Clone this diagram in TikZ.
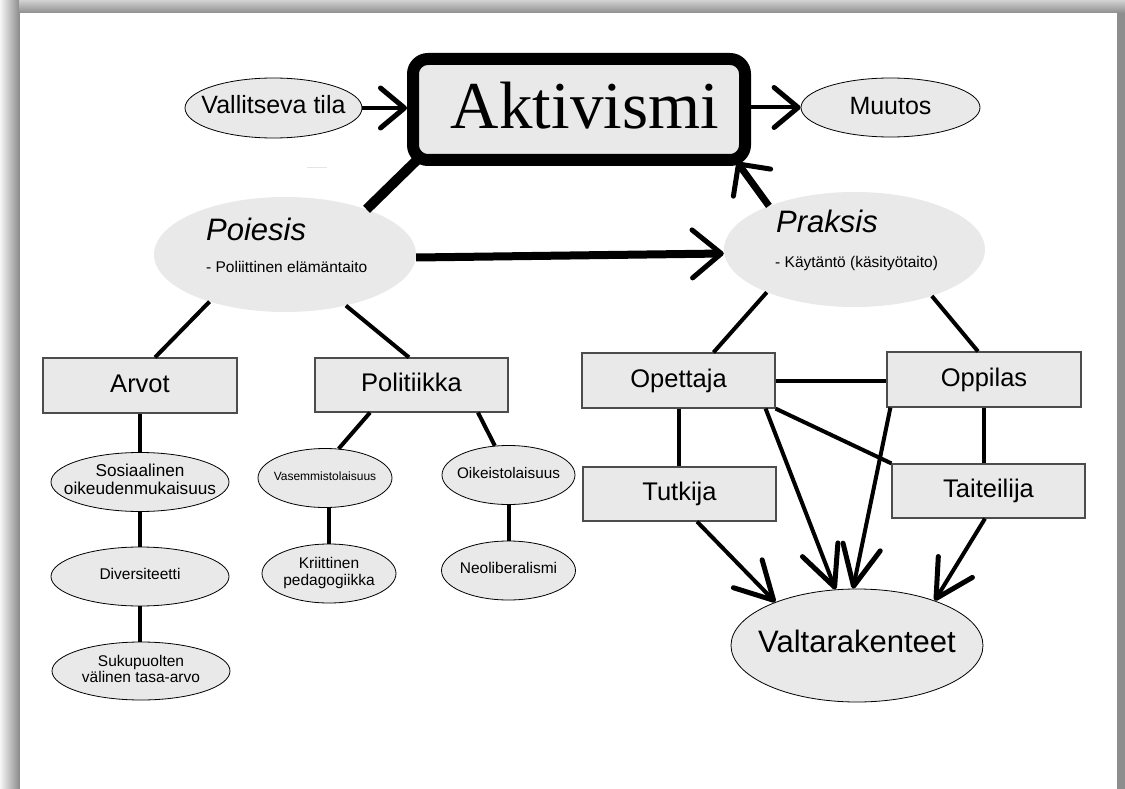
\documentclass[tikz,border=0pt]{standalone}
\usepackage{fontspec}
\setmainfont{Liberation Sans}
\newfontfamily\serifface{Liberation Serif}
\usetikzlibrary{arrows.meta,shapes.geometric}

\definecolor{nodefill}{HTML}{E9E9E9}
\definecolor{framegray}{HTML}{8E8E8E}
\newcommand{\inell}[1]{\makebox[0pt]{\begin{tabular}{@{}c@{}}#1\end{tabular}}}

\begin{document}
\begin{tikzpicture}[x=1pt,y=-1pt]
		% Define node and connector styles
		\tikzset{
			rolebox/.style={rectangle, draw=black!70, line width=1.2pt, fill=nodefill, minimum width=193pt, minimum height=55pt, inner sep=0pt, font=\fontsize{25.5}{28}\selectfont, text height=18pt, text depth=5pt},
			oval/.style={ellipse, draw, line width=0.8pt, fill=nodefill, inner sep=0pt, minimum width=178pt, minimum height=59pt},
			bigoval/.style={ellipse, fill=nodefill, inner sep=0pt, minimum width=262pt, minimum height=115pt},
			tie/.style={line width=4pt},
			barb/.style 2 args={-{Straight Barb[length=#1, width=#2, line width=5pt, round]}}
		}
		\useasboundingbox (0,0) rectangle (1125,789);
		
		% Draw the page frame
		\fill[framegray] (0,0) rectangle (1125,789);
		\shade[left color=white!92!framegray, right color=framegray] (0,0) rectangle (19,789);
		\shade[top color=framegray!40, bottom color=framegray] (19,0) rectangle (1125,13);
		\fill[white] (20,13) rectangle (1117,789);
		\draw[black!10, line width=1pt] (307,168) -- (327,168);
		
		% Draw the top row
		\node[draw, line width=12pt, rounded corners=15pt, fill=nodefill, minimum width=332pt, minimum height=101pt, inner sep=0pt, font=\serifface\fontsize{67}{67}\selectfont, text depth=8pt] (aktivismi) at (579,109.5) {\hspace*{12pt}Aktivismi};
		\node[oval, minimum width=177pt, minimum height=60pt, font=\fontsize{25}{25}\selectfont] (vallitseva) at (273.5,108) {\inell{Vallitseva tila}};
		\node[oval, minimum width=179pt, font=\fontsize{25}{25}\selectfont] (muutos) at (890.5,107.5) {\inell{\raisebox{-2pt}{Muutos}}};
		
		% Draw Poiesis and Praksis
		\node[bigoval] (poiesis) at (285,254.5) {};
		\node[anchor=base west, inner sep=0pt, font=\itshape\fontsize{31}{31}\selectfont] (poiesistitle) at (206,240) {Poiesis};
		\node[anchor=base west, inner sep=0pt, font=\fontsize{15.5}{16}\selectfont] (poiesissub) at (206,272) {- Poliittinen elämäntaito};
		\node[bigoval, minimum width=261pt] (praksis) at (854.5,249.5) {};
		\node[anchor=base west, inner sep=0pt, font=\itshape\fontsize{31}{31}\selectfont] (praksistitle) at (776,233) {Praksis};
		\node[anchor=base west, inner sep=0pt, font=\fontsize{15.5}{16}\selectfont] (praksissub) at (775,267) {- Käytäntö (käsityötaito)};
		
		% Draw the boxes
		\node[rolebox, minimum width=194pt] (arvot) at (140,385.5) {Arvot};
		\node[rolebox, minimum height=54pt] (politiikka) at (411.5,385) {Politiikka};
		\node[rolebox] (opettaja) at (678.5,380.5) {Opettaja};
		\node[rolebox, minimum width=194pt] (oppilas) at (984,379.5) {Oppilas};
		\node[rolebox, minimum height=54pt] (tutkija) at (679.5,494) {Tutkija};
		\node[rolebox, minimum height=54pt] (taiteilija) at (988.5,491) {Taiteilija};
		
		% Draw the ellipses below Arvot and Politiikka
		\node[oval, font=\fontsize{17.2}{17.5}\selectfont] (sosiaalinen) at (140,482) {\inell{Sosiaalinen\\oikeudenmukaisuus}};
		\node[oval, font=\fontsize{15.5}{16}\selectfont] (diversiteetti) at (140,576.5) {\inell{Diversiteetti}};
		\node[oval, minimum height=58pt, font=\fontsize{15.5}{16.5}\selectfont] (sukupuolten) at (141,671) {\inell{Sukupuolten\\välinen tasa-arvo}};
		\node[oval, minimum width=134pt, font=\fontsize{12}{12}\selectfont] (vasemmisto) at (325,478) {\inell{Vasemmistolaisuus}};
		\node[oval, minimum width=134pt, font=\fontsize{15.5}{17}\selectfont] (kriittinen) at (329,573.5) {\inell{Kriittinen\\pedagogiikka}};
		\node[oval, minimum width=133pt, font=\fontsize{15.3}{16}\selectfont] (oikeisto) at (508.5,475) {\inell{Oikeistolaisuus}};
		\node[oval, minimum width=134pt, font=\fontsize{15.5}{16}\selectfont] (neoliberalismi) at (508.5,570.5) {\inell{Neoliberalismi}};
		
		% Draw Valtarakenteet
		\node[oval, minimum width=252pt, minimum height=113pt, font=\fontsize{31}{31}\selectfont] (valta) at (857,645.5) {\inell{Valtarakenteet}};
		
		% Draw the arrows of the top row
		\draw[tie, barb={24pt}{40pt}] (vallitseva.east) -- (vallitseva.east -| aktivismi.west);
		\draw[tie, barb={24pt}{40pt}] (aktivismi.east |- muutos.west) -- (muutos.west);
		\draw[line width=10pt] (poiesis.29) -- ([shift={(10,-6)}]aktivismi.south west);
		\draw[line width=7pt, barb={23pt}{46pt}] (praksis.153) -- ([shift={(-14,-4)}]aktivismi.south east);
		\draw[line width=8pt, barb={29pt}{48pt}] ([yshift=-3pt]poiesis.east) -- ([yshift=-4pt]praksis.west);
		
		% Draw the tree under Poiesis
		\draw[tie] (poiesis.212) -- ([xshift=15pt]arvot.north);
		\draw[tie] (poiesis.320) -- ([xshift=-2.5pt]politiikka.north);
		\draw[tie] (arvot.south) -- (sosiaalinen.north);
		\draw[tie] (sosiaalinen.south) -- (diversiteetti.north);
		\draw[tie] (diversiteetti.south) -- (diversiteetti.south |- sukupuolten.north);
		\draw[tie] ([xshift=-41.5pt]politiikka.south) -- (vasemmisto.65);
		\draw[tie] ([xshift=66.5pt]politiikka.south) -- (oikeisto.115);
		\draw[tie] (vasemmisto.south -| kriittinen.north) -- (kriittinen.north);
		\draw[tie] (oikeisto.south) -- (neoliberalismi.north);
		
		% Draw the network under Praksis
		\draw[tie] (praksis.206) -- ([xshift=35pt]opettaja.north);
		\draw[tie] (praksis.329) -- ([xshift=-6pt]oppilas.north);
		\draw[tie] (opettaja.east) -- (opettaja.east -| oppilas.west);
		\draw[tie] (opettaja.south) -- (opettaja.south |- tutkija.north);
		\draw[tie] (oppilas.south) -- (oppilas.south |- taiteilija.north);
		\draw[tie] (opettaja.south east) -- (taiteilija.north west);
		\draw[tie, barb={37pt}{40pt}] ([xshift=17.5pt]tutkija.south) -- (valta.152);
		\draw[tie, barb={40pt}{38pt}] ([xshift=-10pt]opettaja.south east) -- (valta.111);
		\draw[tie, barb={40pt}{38pt}] ([xshift=4pt]oppilas.south west) -- (valta.94);
		\draw[tie, barb={37pt}{40pt}] ([xshift=-3.5pt]taiteilija.south) -- (valta.30);
	\end{tikzpicture}
\end{document}
